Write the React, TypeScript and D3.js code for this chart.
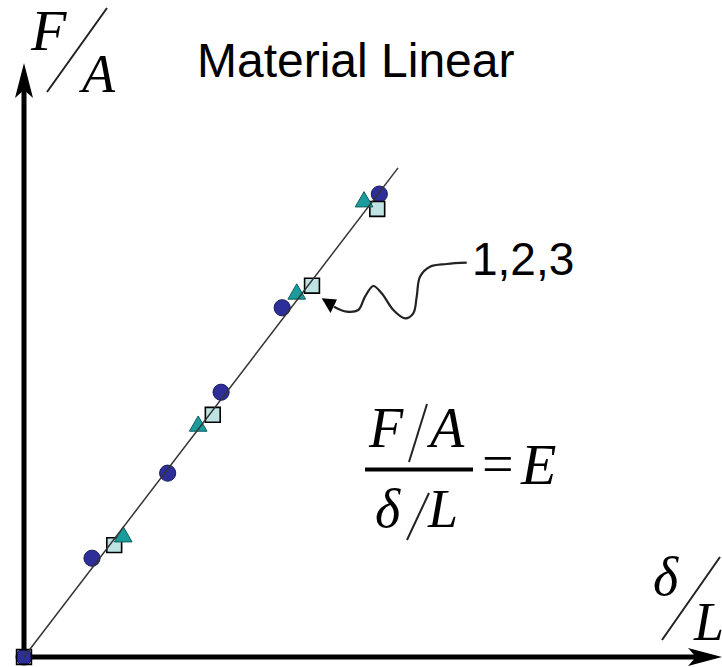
import React from "react";
import * as d3 from "d3";

// Stress vs. strain readings for three specimens of a linear material
const specimen1Strain = [0, 0.98, 2.07, 2.84, 3.72, 5.12];
const specimen1Stress = [0, 1.66, 3.09, 4.45, 5.87, 7.78];
const specimen2Strain = [0, 1.43, 2.51, 3.93, 4.9];
const specimen2Stress = [0, 2.02, 3.88, 6.1, 7.65];
const specimen3Strain = [0, 1.3, 2.72, 4.15, 5.09];
const specimen3Stress = [0, 1.88, 4.07, 6.24, 7.53];
// Straight fit through the origin
const fitStrain = [0, 5.39];
const fitStress = [0, 8.22];

const W = 722;
const H = 667;

const x = d3.scaleLinear().domain([0, 10]).range([24, 718]);
const y = d3.scaleLinear().domain([0, 10]).range([657, 62]);

const zip = (a: number[], b: number[]) => a.map((v, i) => [v, b[i]] as [number, number]);

const circlePath = d3.symbol(d3.symbolCircle, 205)()!;
const squarePath = d3.symbol(d3.symbolSquare, 220)()!;
const trianglePath = d3.symbol(d3.symbolTriangle, 135)()!;

// Wavy leader from the "1,2,3" tag to the marker group
const leaderPts: [number, number][] = [
  [334, 306.7], [346.7, 311.7], [358.3, 310], [365, 296.7], [373.3, 286],
  [381.7, 293.3], [393.3, 310], [405, 318.3], [413.3, 313.3], [416.7, 296.7],
  [420, 276.7], [430, 266.7], [446.7, 264], [466.7, 262.7],
];

export default function App() {
  const line = d3.line<[number, number]>().x((d) => x(d[0])).y((d) => y(d[1]));
  const leader = d3.line().curve(d3.curveCatmullRom.alpha(0.5))(leaderPts)!;
  const x0 = x(0);
  const y0 = y(0);
  const serif = "'Liberation Serif', 'Times New Roman', serif";
  const sans = "'Liberation Sans', Arial, sans-serif";

  return (
    <svg width={W} height={H} style={{ position: "absolute", left: 0, top: 0, background: "#fff" }}>
      {/* axes */}
      <line x1={x0} y1={y0} x2={x0} y2={88} stroke="#000" strokeWidth={5} />
      <path d={`M${x0},63 L${x0 + 9},98 L${x0},90 L${x0 - 9},98 Z`} fill="#000" />
      <line x1={x0 - 2.5} y1={y0} x2={700} y2={y0} stroke="#000" strokeWidth={5} />
      <path d={`M722,${y0} L688,${y0 - 9} L696,${y0} L688,${y0 + 9} Z`} fill="#000" />

      {/* markers */}
      <g>
        {zip(specimen1Strain, specimen1Stress).map((d, i) => (
          <path key={"c" + i} d={circlePath} transform={`translate(${x(d[0])},${y(d[1])})`}
            fill="#2e2e9a" stroke="#1a1a5e" strokeWidth={1} />
        ))}
        {zip(specimen3Strain, specimen3Stress).map((d, i) => (
          <path key={"s" + i} d={squarePath} transform={`translate(${x(d[0])},${y(d[1])})`}
            fill={i === 0 ? "none" : "#bfe3e3"} stroke="#000" strokeWidth={1.6} />
        ))}
        {zip(specimen2Strain, specimen2Stress).slice(1).map((d, i) => (
          <path key={"t" + i} d={trianglePath} transform={`translate(${x(d[0])},${y(d[1])})`}
            fill="#1a9c9c" stroke="#0e5e5e" strokeWidth={1} />
        ))}
      </g>

      {/* fit line */}
      <path d={line(zip(fitStrain, fitStress))!} stroke="#333" strokeWidth={1.5} fill="none" />

      {/* leader and tag */}
      <path d={leader} stroke="#222" strokeWidth={2.2} fill="none" />
      <path d="M321.7,298.3 L337,299.5 L330.5,313 Z" fill="#000" />
      <text x={472} y={275} fontFamily={sans} fontSize={46} fill="#000">1,2,3</text>

      {/* title */}
      <text x={197} y={77} fontFamily={sans} fontSize={48} fill="#000">Material Linear</text>

      {/* y axis label */}
      <text x={31} y={50} fontFamily={serif} fontStyle="italic" fontSize={58}>F</text>
      <line x1={107} y1={8} x2={47} y2={92} stroke="#222" strokeWidth={2} />
      <text x={82} y={92} fontFamily={serif} fontStyle="italic" fontSize={54}>A</text>

      {/* x axis label */}
      <text x={653} y={595} fontFamily={serif} fontStyle="italic" fontSize={54}>δ</text>
      <line x1={720} y1={557} x2={662} y2={640} stroke="#222" strokeWidth={2} />
      <text x={694} y={640} fontFamily={serif} fontStyle="italic" fontSize={54}>L</text>

      {/* modulus relation */}
      <text x={369} y={447} fontFamily={serif} fontStyle="italic" fontSize={56}>F</text>
      <line x1={427} y1={404} x2={409} y2={462} stroke="#222" strokeWidth={2} />
      <text x={430} y={447} fontFamily={serif} fontStyle="italic" fontSize={56}>A</text>
      <line x1={365} y1={469.5} x2={473} y2={469.5} stroke="#000" strokeWidth={4} />
      <text x={375} y={527} fontFamily={serif} fontStyle="italic" fontSize={54}>δ</text>
      <line x1={429} y1={493} x2={407} y2={540} stroke="#222" strokeWidth={2} />
      <text x={428} y={527} fontFamily={serif} fontStyle="italic" fontSize={54}>L</text>
      <text x={482} y={483} fontFamily={serif} fontSize={56}>=</text>
      <text x={521} y={484} fontFamily={serif} fontStyle="italic" fontSize={58}>E</text>
    </svg>
  );
}
